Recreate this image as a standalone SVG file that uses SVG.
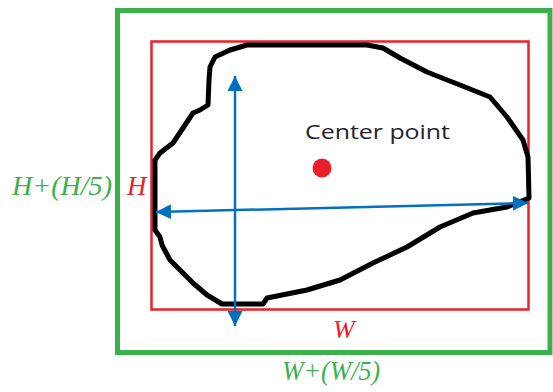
<svg xmlns="http://www.w3.org/2000/svg" width="553" height="392" viewBox="0 0 553 392">
<defs>
<marker id="ah" viewBox="0 0 10 10" refX="10" refY="5" markerWidth="6" markerHeight="6" orient="auto-start-reverse" markerUnits="strokeWidth">
<path d="M0,0 L10,5 L0,10 z" fill="#0070c0"/>
</marker>
<style>
.lbl{font-family:"Liberation Serif",serif;font-style:italic}
.arrow{stroke:#0070c0;stroke-width:2.5;fill:none;marker-start:url(#ah);marker-end:url(#ah)}
</style>
</defs>
<rect width="553" height="392" fill="#ffffff"/>
<g id="outer-box">
<rect x="117.5" y="10.5" width="432.5" height="342" fill="none" stroke="#3cb04a" stroke-width="5"/>
</g>
<g id="bounding-box">
<rect x="151.5" y="41.5" width="377" height="268" fill="none" stroke="#e8212a" stroke-width="2.5"/>
</g>
<g id="shape">
<path d="M155,160 L160,153 L173,143 L183,128 L193,113 L200,110 L208,105 L209,80 L210,67 L215,57 L230,50 L247,45 L367,45 L383,48 L400,58 L427,72 L460,85 L490,97 L507,117 L523,140 L528,157 L529,198 L507,207 L473,213 L440,227 L407,247 L373,263 L340,280 L307,290 L267,298 L263,304 L222,304 L207,295 L193,283 L178,268 L170,260 L162,245 L160,237 L155,230 Z" fill="none" stroke="#000" stroke-width="5" stroke-linejoin="round"/>
</g>
<g id="center-point">
<circle cx="322" cy="168" r="9.5" fill="#e8212a"/>
<text x="305" y="139" font-family="'Open Sans',sans-serif" font-size="20" fill="#1f2233" textLength="145" lengthAdjust="spacingAndGlyphs">Center point</text>
</g>
<g id="connectors">
<line class="arrow" x1="235" y1="76" x2="235" y2="326"/>
<line class="arrow" x1="156" y1="212" x2="528" y2="203"/>
</g>
<g id="labels">
<text class="lbl" x="12" y="195" font-size="27" fill="#3cb04a" textLength="100" lengthAdjust="spacingAndGlyphs">H+(H/5)</text>
<text class="lbl" x="127" y="195" font-size="27" fill="#e8212a">H</text>
<text class="lbl" x="333" y="338" font-size="26" fill="#e8212a">W</text>
<text class="lbl" x="282" y="380" font-size="27" fill="#3cb04a" textLength="98" lengthAdjust="spacingAndGlyphs">W+(W/5)</text>
</g>
</svg>
